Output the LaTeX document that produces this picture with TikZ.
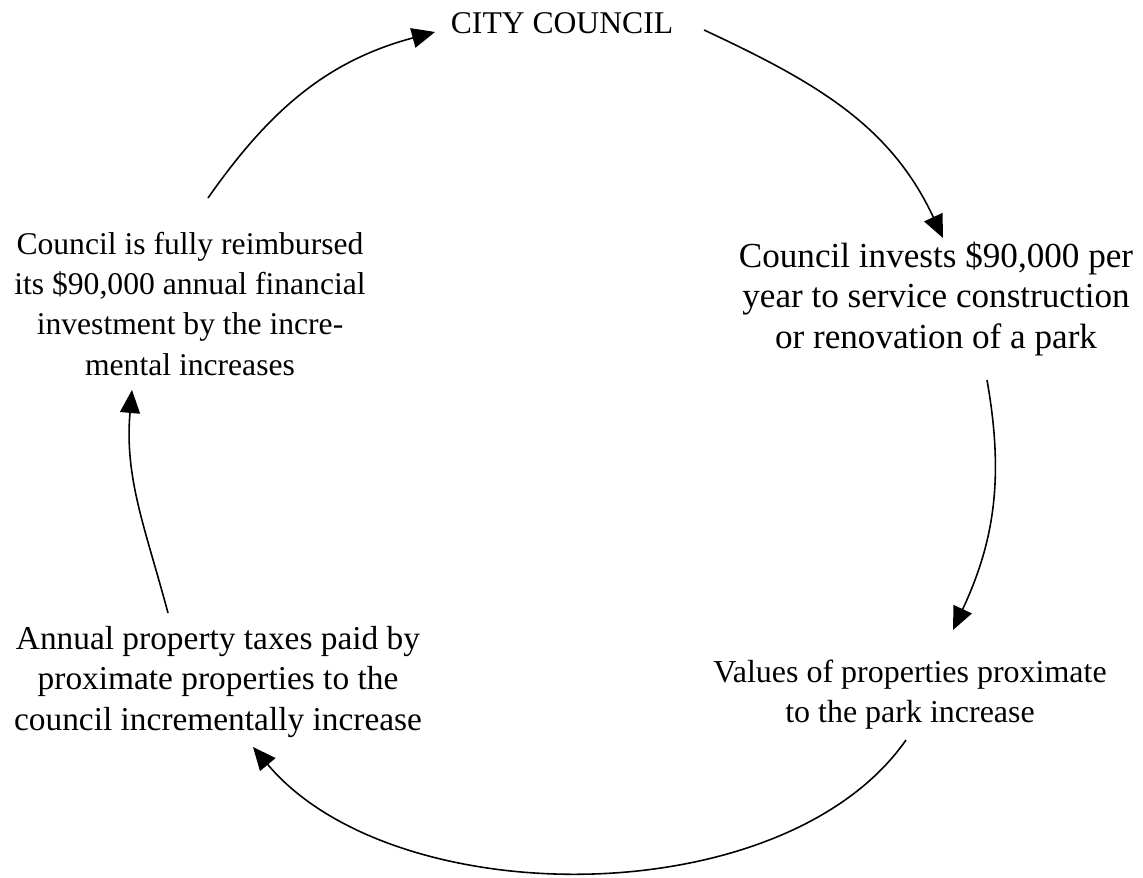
\documentclass[tikz,border=0pt]{standalone}
\usepackage{fontspec}
\setmainfont{Liberation Serif}
\usetikzlibrary{arrows.meta}
\tikzset{
  txt/.style={align=center, inner sep=0pt, font=\fontsize{18}{22.8}\selectfont},
  flow/.style={line width=0.9pt, -{Triangle[length=0.46cm,width=0.4cm]}}
}
\begin{document}
\begin{tikzpicture}[x=0.02cm,y=0.02cm]
\useasboundingbox (0,0) rectangle (1143,878);
\node[txt, anchor=base] (city) at (562,844) {CITY COUNCIL};
\node[txt, font=\fontsize{20}{22.8}\selectfont] (invest) at (936,579) {Council invests \$90,000 per\\year to service construction\\or renovation of a park};
\node[txt, font=\fontsize{18.2}{22.8}\selectfont] (values) at (910,183) {Values of properties proximate\\to the park increase};
\node[txt, font=\fontsize{19}{22.8}\selectfont] (taxes) at (218,196) {Annual property taxes paid by\\proximate properties to the\\council incrementally increase};
\node[txt] (reimb) at (190,574) {Council is fully reimbursed\\its \$90,000 annual financial\\investment by the incre-\\mental increases};
\coordinate (a1s) at (208,680);
\coordinate (a1e) at (435,846);
\coordinate (a2s) at (704,848);
\coordinate (a2e) at (943,640);
\coordinate (a3s) at (987,498);
\coordinate (a3e) at (953,248);
\coordinate (a4s) at (906,138);
\coordinate (a4e) at (253,131);
\coordinate (a5s) at (168,265);
\coordinate (a5e) at (132,488);
\draw[flow] (a1s) to[out=55,in=195] (a1e);
\draw[flow] (a2s) to[out=-25,in=115] (a2e);
\draw[flow] (a3s) to[out=-80,in=65] (a3e);
\draw[flow] (a4s) .. controls (784,-36.8) and (394,-36.8) .. (a4e);
\draw[flow] (a5s) to[out=105,in=-95] (a5e);
\end{tikzpicture}
\end{document}
